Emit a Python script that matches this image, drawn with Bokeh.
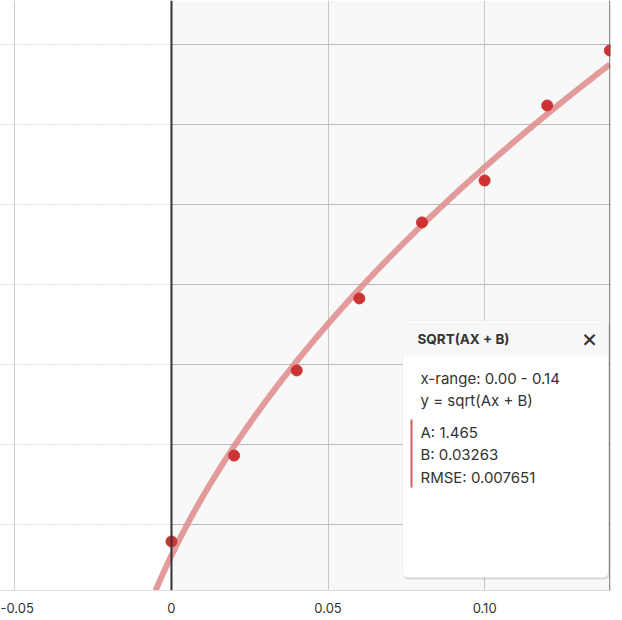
from bokeh.plotting import figure
from bokeh.models import Range1d, FixedTicker, Span, BoxAnnotation, Label
from bokeh.embed import file_html
from bokeh.resources import INLINE
import numpy as np

# ---- data ----
x_pts = [0.00, 0.02, 0.04, 0.06, 0.08, 0.10, 0.12, 0.14]
y_pts = [0.1894, 0.2431, 0.2963, 0.3413, 0.3888, 0.4150, 0.4619, 0.4963]
fit_A = 1.465
fit_B = 0.03263
fit_rmse = 0.007651
fit_range = (0.00, 0.14)
x_ticks = [-0.05, 0.0, 0.05, 0.10]
x_tick_labels = ["-0.05", "0", "0.05", "0.10"]
y_grid = [0.20, 0.25, 0.30, 0.35, 0.40, 0.45, 0.50]

X_START, X_END = -0.0546, 0.1402
Y_START, Y_END = 0.15875, 0.5275
FW, FH = 610, 590
OX, OY = 0, 0   # frame origin in picture pixels
FONT = "Inter"

p = figure(frame_width=FW, frame_height=FH, output_backend="svg", toolbar_location=None,
           x_range=Range1d(X_START, X_END), y_range=Range1d(Y_START, Y_END),
           min_border_left=0, min_border_top=0, min_border_right=4, min_border_bottom=0,
           y_axis_location=None)
p.outline_line_color = None
p.background_fill_color = "white"

def px2x(px):
    return X_START + (px - OX) / FW * (X_END - X_START)

def py2y(py):
    return Y_END - (py - OY) / FH * (Y_END - Y_START)

# axis
ax = p.xaxis[0]
ax.ticker = FixedTicker(ticks=x_ticks)
ax.major_label_overrides = {t: l for t, l in zip(x_ticks, x_tick_labels)}
ax.major_tick_line_color = None
ax.minor_tick_line_color = None
ax.axis_line_color = "#dddddd"
ax.major_label_standoff = 6
ax.major_label_text_font = FONT
ax.major_label_text_font_size = "13px"
ax.major_label_text_color = "#333333"

# grids
p.xgrid.ticker = FixedTicker(ticks=x_ticks)
p.xgrid.grid_line_color = "#cccccc"
p.ygrid.ticker = FixedTicker(ticks=y_grid)
p.ygrid.grid_line_color = "#bbbbbb"
p.ygrid.grid_line_dash = "1 2"

# shaded fit range
p.add_layout(BoxAnnotation(left=fit_range[0], right=fit_range[1], fill_color="black",
                           fill_alpha=0.027, line_color=None, level="underlay"))
p.segment(x0=[fit_range[0]] * len(y_grid), x1=[fit_range[1]] * len(y_grid), y0=y_grid, y1=y_grid,
          line_color="#c4c4c4", line_width=1, level="underlay")

p.add_layout(Span(location=0, dimension="height", line_color="#333333", line_width=2))
p.add_layout(Span(location=fit_range[1], dimension="height", line_color="#555555", line_width=1))

# fit curve
y_lo = Y_START
x_lo = (y_lo ** 2 - fit_B) / fit_A
xc = np.linspace(x_lo, fit_range[1], 200)
yc = np.sqrt(fit_A * xc + fit_B)
p.line(xc, yc, line_color="#e08f8f", line_alpha=0.9, line_width=6)

# points
p.scatter(x_pts, y_pts, size=11, fill_color="#cc3333", line_color="#cc3333")

# ---- info panel ----
L, R, T, B = 402, 608, 320, 577
p.add_layout(BoxAnnotation(left=px2x(L + 1), right=px2x(R + 1), top=py2y(T + 2), bottom=py2y(B + 2),
                           fill_color="black", fill_alpha=0.12, line_color=None, border_radius=5))
p.add_layout(BoxAnnotation(left=px2x(L), right=px2x(R), top=py2y(T), bottom=py2y(B),
                           fill_color="white", fill_alpha=1, line_color="#d8d8d8", line_width=1,
                           border_radius=5))
p.add_layout(BoxAnnotation(left=px2x(L + 1), right=px2x(R - 1), top=py2y(T + 1), bottom=py2y(356),
                           fill_color="#f7f7f7", fill_alpha=1, line_color=None,
                           border_radius=(4, 4, 0, 0)))
p.segment(x0=[px2x(L + 1)], x1=[px2x(R - 1)], y0=[py2y(356)], y1=[py2y(356)],
          line_color="#e4e4e4", line_width=1)

def lab(text, px, py, size="15px", style="normal", align="left"):
    p.add_layout(Label(x=px2x(px), y=py2y(py), text=text, text_font=FONT, text_font_size=size,
                       text_font_style=style, text_color="#333333", text_baseline="middle",
                       text_align=align))

lab("SQRT(AX + B)", 417, 338, size="13.5px", style="bold")
lab("\u00d7", 589, 337, size="25px", align="center")
lab(f"x-range: {fit_range[0]:.2f} - {fit_range[1]:.2f}", 420, 378)
lab("y = sqrt(Ax + B)", 420, 400)
p.add_layout(BoxAnnotation(left=px2x(410), right=px2x(412), top=py2y(419), bottom=py2y(487),
                           fill_color="#cc3333", fill_alpha=0.8, line_color=None))
lab(f"A: {fit_A}", 420, 432)
lab(f"B: {fit_B}", 420, 454)
lab(f"RMSE: {fit_rmse}", 420, 477)

open("out.html", "w").write(file_html(p, INLINE))
